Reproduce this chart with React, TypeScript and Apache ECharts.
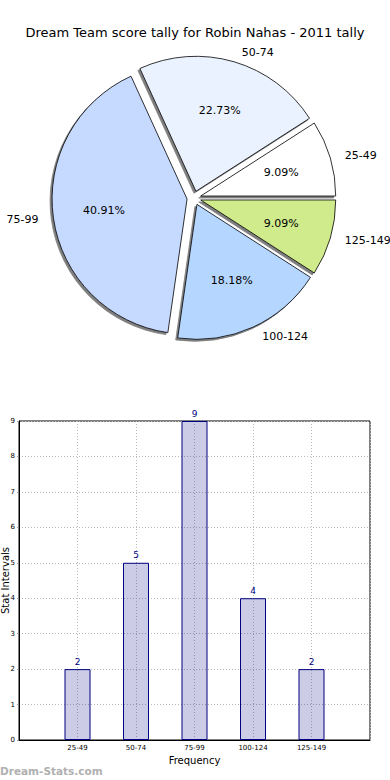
import React, { useEffect, useRef } from "react";
import * as echarts from "echarts";

const titleText = "Dream Team score tally for Robin Nahas - 2011 tally";
const categories = ["25-49", "50-74", "75-99", "100-124", "125-149"];
const counts = [2, 5, 9, 4, 2];
const yTicks = [0, 1, 2, 3, 4, 5, 6, 7, 8, 9];
const sliceColors = ["#ffffff", "#eaf2ff", "#c6d9ff", "#b5d6ff", "#d0eb8c"];

const FONT = "DejaVu Sans";

export default function App() {
  const ref = useRef<HTMLDivElement>(null);
  useEffect(() => {
    if (!ref.current) return;
    const chart = echarts.init(ref.current, null, { renderer: "svg" });
    const total = counts.reduce((a, b) => a + b, 0);
    const pieData = categories.map((c, i) => ({
      name: c,
      value: counts[i],
      selected: true,
      itemStyle: { color: sliceColors[i] },
    }));
    const pieCenter = [194, 198];
    const R = 135;
    chart.setOption({
      animation: false,
      textStyle: { fontFamily: FONT },
      title: {
        text: titleText,
        left: "center",
        top: 21,
        textStyle: { fontFamily: FONT, fontSize: 13, fontWeight: "normal", color: "#000" },
      },
      graphic: [
        {
          type: "text",
          left: 0,
          top: 765,
          style: {
            text: "Dream-Stats.com",
            fontFamily: FONT,
            fontSize: 10.5,
            fontWeight: "bold",
            fill: "#b0b0b0",
          },
        },
      ],
      grid: {
        left: 19,
        right: 20,
        top: 421,
        bottom: 40,
        containLabel: false,
        outerBoundsMode: "none",
        show: true,
        borderColor: "#000",
        borderWidth: 1,
        backgroundColor: "transparent",
      },
      xAxis: {
        type: "value",
        min: 0,
        max: 6,
        interval: 1,
        name: "Frequency",
        nameLocation: "middle",
        nameGap: 15,
        nameMoveOverlap: false,
        nameTextStyle: { fontFamily: FONT, fontSize: 10, color: "#000" },
        axisLine: { show: true, lineStyle: { color: "#000", width: 1 } },
        axisTick: { show: false },
        axisLabel: {
          fontFamily: FONT,
          fontSize: 7,
          color: "#000",
          margin: 4,
          formatter: (v: number) => categories[v - 1] ?? "",
        },
        splitLine: { show: true, lineStyle: { color: "#bbbbbb", type: [1, 2], width: 1 } },
      },
      yAxis: {
        type: "value",
        min: 0,
        max: 9,
        interval: 1,
        name: "Stat Intervals",
        nameLocation: "middle",
        nameGap: 9,
        nameMoveOverlap: false,
        nameTextStyle: { fontFamily: FONT, fontSize: 10, color: "#000" },
        axisLine: { show: true, lineStyle: { color: "#000", width: 1 } },
        axisTick: { show: true, length: 2, lineStyle: { color: "#999" } },
        axisLabel: {
          fontFamily: FONT,
          fontSize: 7,
          color: "#000",
          margin: 4,
          formatter: (v: number) => (yTicks.includes(v) ? String(v) : ""),
        },
        splitLine: { show: true, lineStyle: { color: "#bbbbbb", type: [1, 2], width: 1 } },
      },
      series: [
        {
          type: "pie",
          center: pieCenter,
          radius: R,
          startAngle: 0,
          clockwise: false,
          selectedMode: "multiple",
          selectedOffset: 7,
          avoidLabelOverlap: false,
          silent: true,
          data: pieData,
          itemStyle: {
            borderColor: "#000",
            borderWidth: 0.8,
            shadowColor: "rgba(0,0,0,0.5)",
            shadowOffsetX: -2,
            shadowOffsetY: 2,
            shadowBlur: 1,
          },
          label: {
            show: true,
            position: "outside",
            fontFamily: FONT,
            fontSize: 11,
            color: "#000",
            distanceToLabelLine: 5,
          },
          labelLine: { show: false, length: 10, length2: 0 },
          emphasis: { disabled: true },
        },
        {
          type: "pie",
          center: pieCenter,
          radius: [R * 0.2, R],
          startAngle: 0,
          clockwise: false,
          selectedMode: "multiple",
          selectedOffset: 7,
          avoidLabelOverlap: false,
          silent: true,
          data: categories.map((c, i) => ({ name: c, value: counts[i], selected: true })),
          itemStyle: { color: "rgba(0,0,0,0)", borderWidth: 0 },
          label: {
            show: true,
            position: "inside",
            fontFamily: FONT,
            fontSize: 11,
            color: "#000",
            formatter: (p: any) => ((p.value / total) * 100).toFixed(2) + "%",
          },
          labelLine: { show: false },
          emphasis: { disabled: true },
        },
        {
          type: "bar",
          data: counts.map((v, i) => [i + 1, v]),
          barWidth: 26,
          itemStyle: {
            color: "rgba(0,0,128,0.2)",
            borderColor: "#000080",
            borderWidth: 1,
          },
          label: {
            show: true,
            position: "top",
            distance: 3,
            fontFamily: FONT,
            fontSize: 9,
            color: "#000080",
            formatter: (p: any) => String(p.value[1]),
          },
        },
      ],
    });
    return () => chart.dispose();
  }, []);
  return (
    <div
      ref={ref}
      style={{ position: "fixed", left: 0, top: 0, width: 390, height: 780, background: "#fff" }}
    />
  );
}
